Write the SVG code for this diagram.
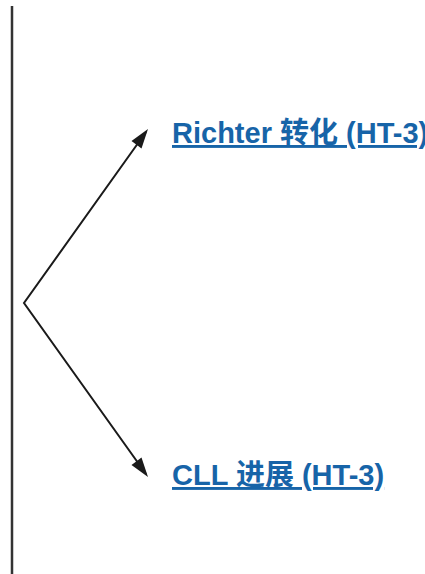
<svg xmlns="http://www.w3.org/2000/svg" width="425" height="574" viewBox="0 0 425 574">
<style>
.lbl{font-family:"Liberation Sans","Noto Sans CJK SC",sans-serif;font-weight:bold;font-size:29px;fill:#1764a8;text-decoration:underline}
.conn{stroke:#1a1a1a;stroke-width:2;fill:none}
</style>
<rect width="425" height="574" fill="#ffffff"/>
<g id="bracket">
<line x1="12" y1="6" x2="12" y2="574" stroke="#333333" stroke-width="2.5"/>
</g>
<g id="connectors">
<path class="conn" d="M146,132 L24,303 L146,474" fill="none"/>
<path d="M148,129 L131.5,141 L141.5,148.5 z" fill="#1a1a1a"/>
<path d="M148,477 L141.5,457.5 L131.5,465 z" fill="#1a1a1a"/>
</g>
<g id="node-richter">
<text class="lbl" x="172" y="143">Richter 转化 (HT-3)</text>
</g>
<g id="node-cll">
<text class="lbl" x="172" y="485">CLL 进展 (HT-3)</text>
</g>
</svg>
